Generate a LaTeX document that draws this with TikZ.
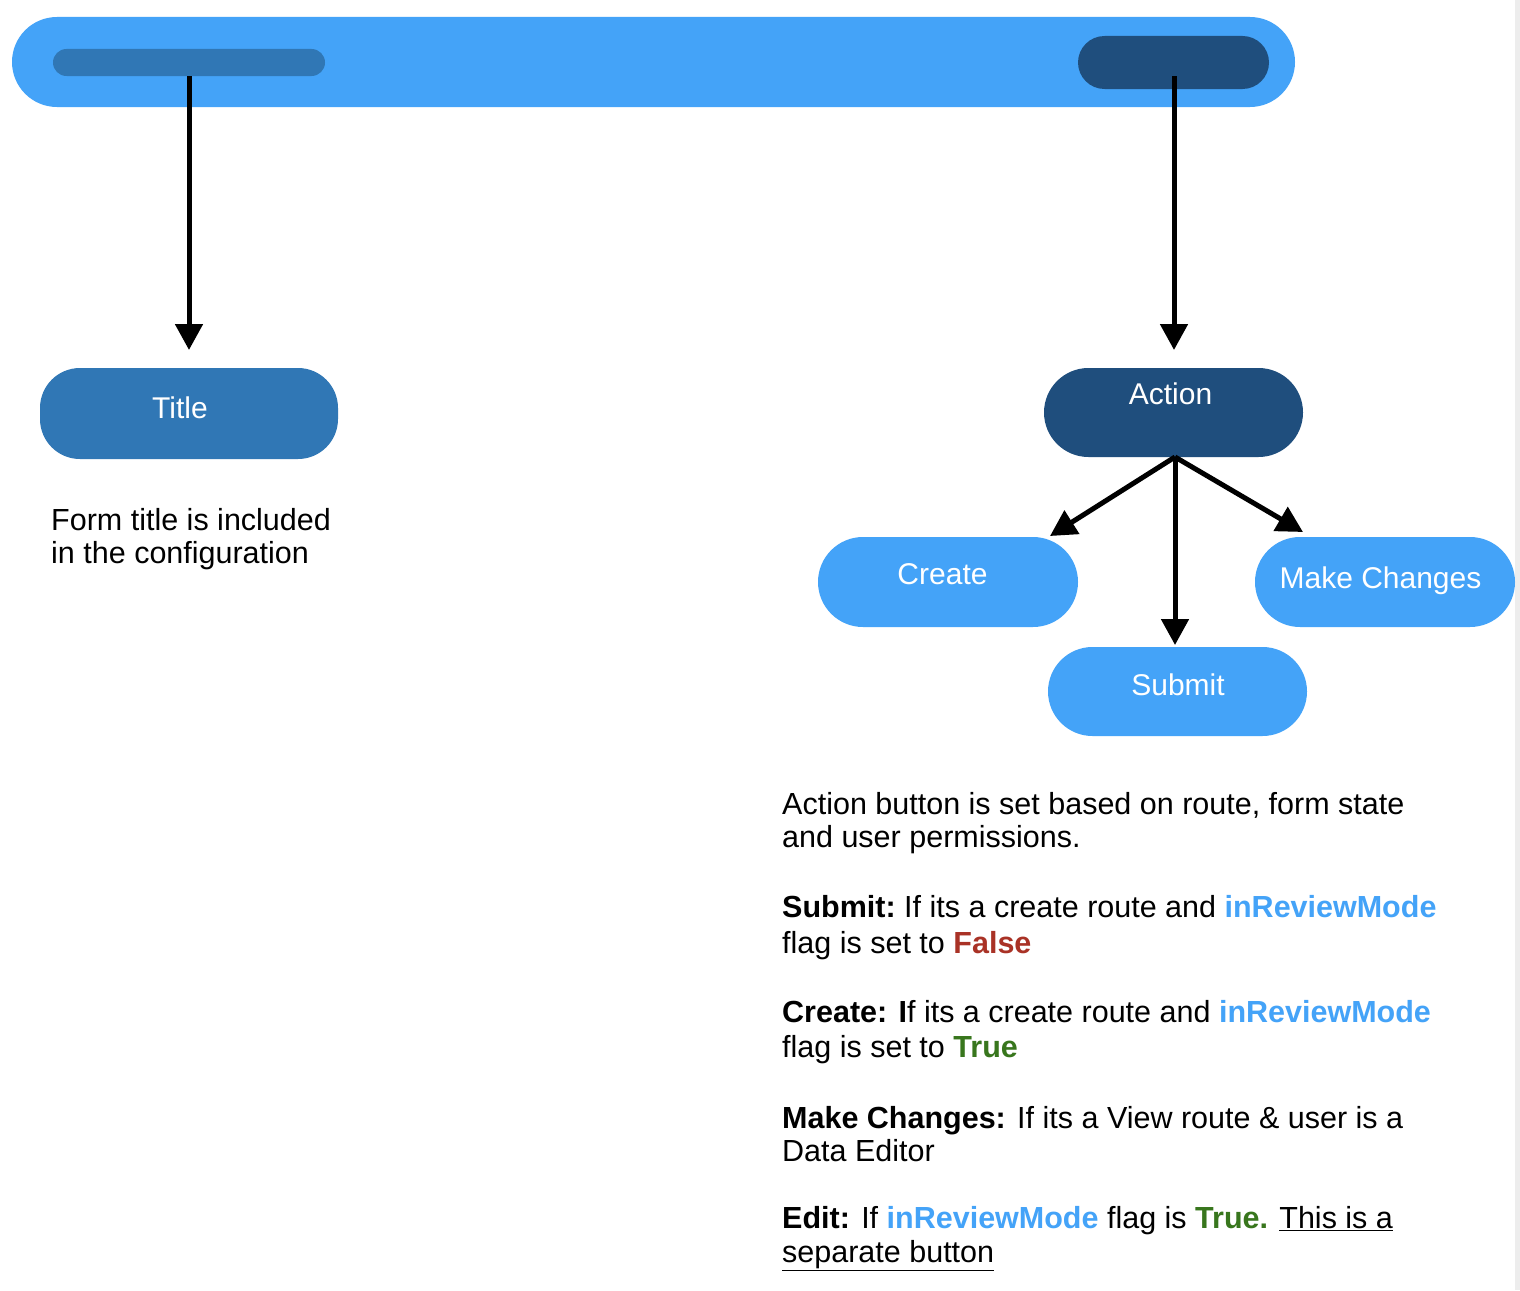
\documentclass[tikz,border=0pt]{standalone}
\usepackage{fontspec}
\setmainfont{Liberation Sans}
\usetikzlibrary{arrows.meta,calc}
\definecolor{barblue}{HTML}{44A3F8}
\definecolor{midblue}{HTML}{3077B5}
\definecolor{darkblue}{HTML}{1F4E7D}
\definecolor{tred}{HTML}{A93226}
\definecolor{tgreen}{HTML}{38761D}
\definecolor{stripgray}{HTML}{EDEDED}
\tikzset{
  pill/.style={draw=none, inner sep=0pt, outer sep=0pt},
  btnlabel/.style={anchor=base, inner sep=0pt, text=white, font=\fontsize{30}{34}\selectfont},
  bodytext/.style={anchor=base west, inner sep=0pt, text=black, font=\fontsize{30.5}{33}\selectfont},
  arr/.style={line width=5pt, -{Triangle[length=26pt,width=27pt]}, black},
}
\newcommand{\hlblue}[1]{\textbf{\textcolor{barblue}{#1}}}
\begin{document}
\begin{tikzpicture}[x=1pt,y=-1pt]
\useasboundingbox (0,0) rectangle (1520,1290);
\fill[white] (0,0) rectangle (1520,1290);
\fill[stripgray] (1515,0) rectangle (1520,1290);

% top bar
\node[pill, fill=barblue, rounded corners=45pt, minimum width=1283pt, minimum height=90pt] (bar) at (653.5,62) {};
\node[pill, fill=midblue, rounded corners=13.5pt, minimum width=272pt, minimum height=27pt] (tbar) at (189,62.5) {};
\node[pill, fill=darkblue, rounded corners=26.5pt, minimum width=191pt, minimum height=53pt] (abar) at (1173.5,62.5) {};

% buttons
\node[pill, fill=midblue, rounded corners=40pt, minimum width=298pt, minimum height=91pt] (title) at (189,413.5) {};
\node[btnlabel] (titleT) at (180,418) {Title};

\node[pill, fill=darkblue, rounded corners=44.5pt, minimum width=259pt, minimum height=89pt] (action) at (1173.5,412.5) {};
\node[btnlabel] (actionT) at (1170.5,404) {Action};

\node[pill, fill=barblue, rounded corners=45pt, minimum width=260pt, minimum height=90pt] (create) at (948,582) {};
\node[btnlabel] (createT) at (942.5,584) {Create};

\node[pill, fill=barblue, rounded corners=45pt, minimum width=260pt, minimum height=90pt] (make) at (1385,582) {};
\node[btnlabel] (makeT) at (1380.5,588) {Make Changes};

\node[pill, fill=barblue, rounded corners=44.5pt, minimum width=259pt, minimum height=89pt] (submit) at (1177.5,691.5) {};
\node[btnlabel] (submitT) at (1178,695) {Submit};

% connectors
\draw[arr, shorten >=18pt] (tbar.south) -- (title.north);
\coordinate (abarstart) at ($(abar.south)+(0.5,-13)$);
\draw[arr, shorten >=18pt] (abarstart) -- (abarstart |- action.north);
\coordinate (ctip) at ($(create.north east)+(-28,-1)$);
\coordinate (mtip) at ($(make.north west)+(48,-5)$);
\coordinate (astart) at ($(action.south)+(1.5,0)$);
\draw[arr] (astart) -- (ctip);
\draw[arr] (astart) -- (mtip);
\draw[arr, shorten >=2pt] (astart) -- (astart |- submit.north);

% left text
\node[bodytext] (ft1) at (51,530) {Form title is included};
\node[bodytext] (ft2) at (51,563) {in the configuration};

% right text
\node[bodytext] (r1) at (782,814) {Action button is set based on route, form state};
\node[bodytext] (r2) at (782,847) {and user permissions.};
\node[bodytext] (r3) at (782,917) {\textbf{Submit:}\ If its a create route and \hlblue{inReviewMode}};
\node[bodytext] (r4) at (782,953) {flag is set to \textbf{\textcolor{tred}{False}}};
\node[bodytext] (r5) at (782,1022) {\textbf{Create: I}f its a create route and \hlblue{inReviewMode}};
\node[bodytext] (r6) at (782,1057) {flag is set to \textbf{\textcolor{tgreen}{True}}};
\node[bodytext] (r7) at (782,1128) {\textbf{Make Changes:} If its a View route \& user is a};
\node[bodytext] (r8) at (782,1161) {Data Editor};
\node[bodytext] (r9) at (782,1228) {\textbf{Edit:} If \hlblue{inReviewMode} flag is \textbf{\textcolor{tgreen}{True.}} \underline{This is a}};
\node[bodytext] (r10) at (782,1262) {\underline{separate button}};
\end{tikzpicture}
\end{document}
